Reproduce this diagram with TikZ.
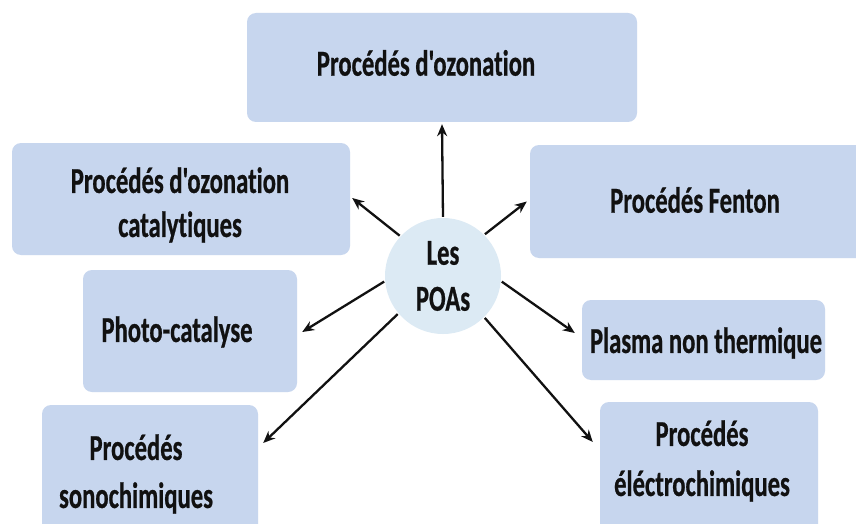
\documentclass[tikz,border=0pt]{standalone}
\usepackage{fontspec}
\setmainfont{Carlito}[FakeStretch=0.675, Ligatures={TeXOff,NoCommon}, BoldFeatures={FakeBold=0.6}]
\usetikzlibrary{arrows.meta}
\definecolor{boxblue}{HTML}{C7D6EE}
\definecolor{circblue}{HTML}{DCEAF4}
\definecolor{ink}{HTML}{111111}
\tikzset{
  procbox/.style={draw=none, fill=boxblue, rounded corners=9pt, inner sep=0pt},
  proctext/.style={text=ink, font=\bfseries\fontsize{36.5}{44}\selectfont, align=center, inner sep=0pt},
  arr/.style={draw=ink, line width=2.3pt, -{Stealth[length=12pt,width=10pt]}, shorten <=1pt}
}
\begin{document}
\begin{tikzpicture}[x=1pt,y=-1pt]
\useasboundingbox (0,0) rectangle (856,524);
\clip (0,0) rectangle (856,524);
\fill[white] (0,0) rectangle (856,524);
% boxes
\node[procbox, minimum width=390pt, minimum height=109pt] (top) at (442,67.5) {};
\node[procbox, minimum width=338pt, minimum height=112pt] (cat) at (181,199) {};
\node[procbox, minimum width=214pt, minimum height=122pt] (pho) at (190,331) {};
\node[procbox, minimum width=216pt, minimum height=140pt] (son) at (150,475) {};
\node[procbox, minimum width=340pt, minimum height=113pt] (fen) at (700,201.5) {};
\node[procbox, minimum width=243pt, minimum height=80pt] (pla) at (703.5,340) {};
\node[procbox, minimum width=218pt, minimum height=142pt] (ele) at (709,473) {};
% texts
\node[proctext] (topT) at (426,63) {Procédés d'ozonation};
\node[proctext] (catT) at (180,205) {Procédés d'ozonation\\catalytiques};
\node[proctext] (phoT) at (177,332) {Photo-catalyse};
\node[proctext, font=\bfseries\fontsize{36.5}{48}\selectfont] (sonT) at (136,474) {Procédés\\sonochimiques};
\node[proctext] (fenT) at (695,200) {Procédés Fenton};
\node[proctext] (plaT) at (706,343) {Plasma non thermique};
\node[proctext, font=\bfseries\fontsize{36.5}{50}\selectfont] (eleT) at (702,461) {Procédés\\éléctrochimiques};
% centre
\node[circle, fill=circblue, minimum size=116pt, inner sep=0pt, text=ink,
      font=\bfseries\fontsize{36.5}{46}\selectfont, align=center] (c) at (443,276) {Les\\POAs};
% arrows
\draw[arr] (c.90) -- ([shift={(0,2)}]top.south);
\draw[arr] (c.137) -- ([shift={(2,-1)}]cat.east);
\draw[arr] (c.185) -- ([shift={(5,1)}]pho.east);
\draw[arr] (c.220) -- ([shift={(5,-32)}]son.east);
\draw[arr] (c.45) -- ([shift={(-3,0)}]fen.west);
\draw[arr] (c.-5) -- ([shift={(-7,-7)}]pla.west);
\draw[arr] (c.-45) -- ([shift={(-7,-31)}]ele.west);
\end{tikzpicture}
\end{document}
